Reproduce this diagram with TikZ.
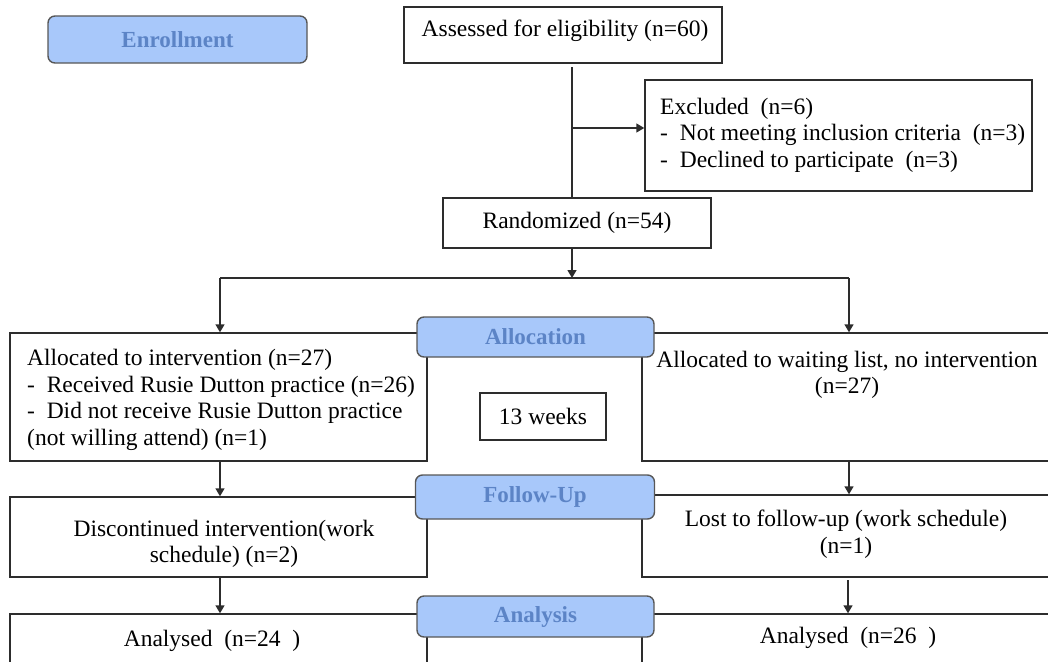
\documentclass[tikz,border=0pt]{standalone}
\usepackage{fontspec}
\setmainfont{Liberation Serif}
\usetikzlibrary{arrows.meta}
\definecolor{lblfill}{RGB}{168,200,250}
\definecolor{lbltext}{RGB}{92,132,198}
\definecolor{lineclr}{RGB}{45,45,45}
\begin{document}
\begin{tikzpicture}[x=1pt,y=-1pt,
  every node/.style={font=\fontsize{23.5}{26.5}\selectfont},
  box/.style={draw=lineclr,line width=1.4pt,fill=white,rectangle,inner sep=0pt},
  phase/.style={draw=lineclr!80,line width=1.4pt,fill=lblfill,rounded corners=7pt,inner sep=0pt,
     text=lbltext,font=\fontsize{23}{26}\selectfont\bfseries},
  txt/.style={inner sep=0pt},
  conn/.style={draw=lineclr,line width=1.4pt},
  arr/.style={conn,-{Triangle[width=9pt,length=8pt]}}]
\useasboundingbox (0,0) rectangle (1048,661);
\begin{scope}
\clip (0,0) rectangle (1048,661);
% boxes
\node[box,minimum width=318pt,minimum height=56pt] (assessed) at (563,35) {};
\node[txt] (assessedt) at (565,31) {Assessed for eligibility (n=60)};
\node[box,minimum width=387pt,minimum height=111pt] (excl) at (838.5,135.5) {};
\node[txt,align=left,anchor=west] (exclt) at (660,135) {Excluded\ \ (n=6)\\- \ Not meeting inclusion criteria \ (n=3)\\- \ Declined to participate \ (n=3)};
\node[box,minimum width=268pt,minimum height=50pt] (rand) at (577,223) {};
\node[txt] (randt) at (577,223) {Randomized (n=54)};

\node[box,minimum width=417pt,minimum height=128pt] (allocL) at (218.5,397) {};
\node[txt,align=left,anchor=west] (allocLt) at (27,400) {Allocated to intervention (n=27)\\- \ Received Rusie Dutton practice (n=26)\\- \ Did not receive Rusie Dutton practice\\(not willing attend) (n=1)};
\node[box,minimum width=414pt,minimum height=128pt] (allocR) at (849,397) {};
\node[txt,align=center] (allocRt) at (847,375) {Allocated to waiting list, no intervention\\(n=27)};
\node[box,minimum width=126pt,minimum height=47pt] (weeks) at (543,416.5) {};
\node[txt] (weekst) at (543,416.5) {13 weeks};

\node[box,minimum width=417pt,minimum height=80pt] (followL) at (218.5,537) {};
\node[txt,align=center] (followLt) at (224,544) {Discontinued intervention(work\\schedule) (n=2)};
\node[box,minimum width=414pt,minimum height=82pt] (followR) at (849,536) {};
\node[txt,align=center] (followRt) at (846,534) {Lost to follow-up (work schedule)\\(n=1)};

\node[box,minimum width=417pt,minimum height=90pt] (anaL) at (218.5,659) {};
\node[txt] (anaLt) at (212,641) {Analysed\ \ (n=24\ \ )};
\node[box,minimum width=414pt,minimum height=90pt] (anaR) at (849,659) {};
\node[txt] (anaRt) at (848,638) {Analysed\ \ (n=26\ \ )};

% phase labels
\node[phase,minimum width=259pt,minimum height=47pt] (enroll) at (177.5,39.5) {Enrollment};
\node[phase,minimum width=237pt,minimum height=40pt] (allocation) at (535.5,337) {Allocation};
\node[phase,minimum width=239pt,minimum height=44pt] (followup) at (535,497) {Follow-Up};
\node[phase,minimum width=237pt,minimum height=41pt] (analysis) at (535.5,616.5) {Analysis};

% connectors
\coordinate (split) at (572,128);
\coordinate (fork) at (572,278);
\coordinate (forkL) at (220,278);
\coordinate (forkR) at (849,278);
\draw[conn] (572,67) -- (rand.north -| split);
\draw[arr] (split) -- (excl.west |- split);
\draw[arr] (rand.south -| fork) -- (fork);
\draw[conn] (forkL) -- (forkR);
\draw[arr] (forkL) -- (allocL.north -| forkL);
\draw[arr] (forkR) -- (allocR.north -| forkR);
\draw[arr] (allocL.south -| forkL) -- (followL.north -| forkL);
\draw[arr] (allocR.south -| forkR) -- (followR.north -| forkR);
\draw[arr] (followL.south -| forkL) -- (anaL.north -| forkL);
\draw[arr] (848,580) -- (anaR.north -| 848,0);
\end{scope}
\end{tikzpicture}
\end{document}
